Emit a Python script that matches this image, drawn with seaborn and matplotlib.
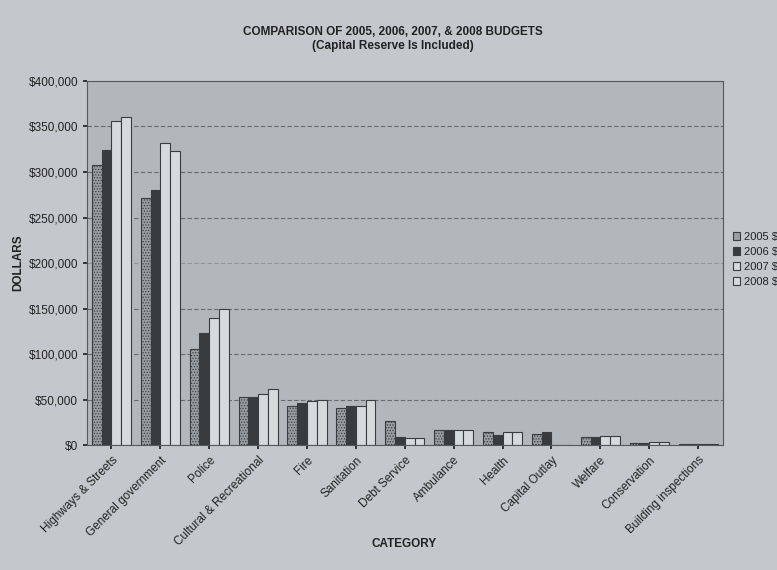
import matplotlib
matplotlib.use("Agg")
import matplotlib.pyplot as plt
import seaborn as sns
import pandas as pd
from matplotlib.ticker import FuncFormatter

categories = ["Highways & Streets", "General government", "Police",
              "Cultural & Recreational", "Fire", "Sanitation", "Debt Service",
              "Ambulance", "Health", "Capital Outlay", "Welfare",
              "Conservation", "Building inspections"]
series_names = ["2005 $", "2006 $", "2007 $", "2008 $"]
v2005 = [308000, 271000, 106000, 53000, 43000, 41000, 26000, 17000, 14000, 12000, 9000, 2000, 1000]
v2006 = [324000, 280000, 123000, 53000, 46000, 43000, 9000, 17000, 11000, 14000, 9000, 2000, 800]
v2007 = [356000, 332000, 140000, 56000, 48000, 43000, 8000, 17000, 14000, 0, 10000, 3000, 800]
v2008 = [360000, 323000, 150000, 62000, 50000, 50000, 8000, 17000, 14000, 0, 10000, 3000, 800]
yticks = [0, 50000, 100000, 150000, 200000, 250000, 300000, 350000, 400000]

rows = []
for name, vals in zip(series_names, [v2005, v2006, v2007, v2008]):
    for c, v in zip(categories, vals):
        rows.append({"Category": c, "Series": name, "Value": v})
df = pd.DataFrame(rows)

sns.set_theme(style="white")
plt.rcParams["font.family"] = ["Liberation Sans", "DejaVu Sans"]
plt.rcParams["hatch.color"] = "#55585c"
plt.rcParams["hatch.linewidth"] = 0.6

fig = plt.figure(figsize=(7.77, 5.70), dpi=100)
fig.patch.set_facecolor("#c4c8cc")
ax = fig.add_axes([0.112, 0.219, 0.818, 0.639])
ax.set_facecolor("#b3b7bb")

palette = {"2005 $": "#9a9ea2", "2006 $": "#3a3b3f", "2007 $": "#d6dadd", "2008 $": "#d6dadd"}
sns.barplot(data=df, x="Category", y="Value", hue="Series", palette=palette,
            order=categories, hue_order=series_names, width=0.8,
            edgecolor="#3a3c40", linewidth=0.8, saturation=1, ax=ax, legend=True)

# hatch 2005 bars
for cont, name in zip(ax.containers, series_names):
    if name == "2005 $":
        for p in cont:
            p.set_hatch("......")

ax.set_ylim(0, 400000)
ax.set_yticks(yticks)
ax.yaxis.set_major_formatter(FuncFormatter(lambda v, p: f"${int(v):,}"))
for y in yticks[1:-1]:
    ax.axhline(y, color="#55585c", linestyle=(0, (4, 2)), linewidth=0.8,
               alpha=0.35 if y == 200000 else 0.8, zorder=0.5)
ax.set_axisbelow(True)

ax.tick_params(axis="y", labelsize=8.5, colors="#222222", length=3, left=True)
ax.tick_params(axis="x", labelsize=8.5, colors="#222222", length=3, bottom=True)
plt.setp(ax.get_xticklabels(), rotation=45, ha="right", rotation_mode="anchor")

for s in ax.spines.values():
    s.set_color("#55585c")
    s.set_linewidth(0.8)

ax.set_xlabel("")
ax.set_ylabel("DOLLARS", fontsize=8.5, fontweight="bold", color="#222222", labelpad=3)
fig.text(0.52, 0.040, "CATEGORY", ha="center", fontsize=8.5,
         fontweight="bold", color="#222222")

fig.text(0.506, 0.938, "COMPARISON OF 2005, 2006, 2007, & 2008 BUDGETS",
         ha="center", fontsize=8.5, fontweight="bold", color="#222222")
fig.text(0.506, 0.914, "(Capital Reserve Is Included)",
         ha="center", fontsize=8.5, fontweight="bold", color="#222222")

leg = ax.legend(loc="center left", bbox_to_anchor=(1.0, 0.51), frameon=False,
                fontsize=8, handlelength=0.7, handleheight=0.7,
                handletextpad=0.3, labelspacing=0.45, borderaxespad=0.5)
for t in leg.get_texts():
    t.set_color("#222222")

fig.savefig("out.png", dpi=100, facecolor=fig.get_facecolor())
